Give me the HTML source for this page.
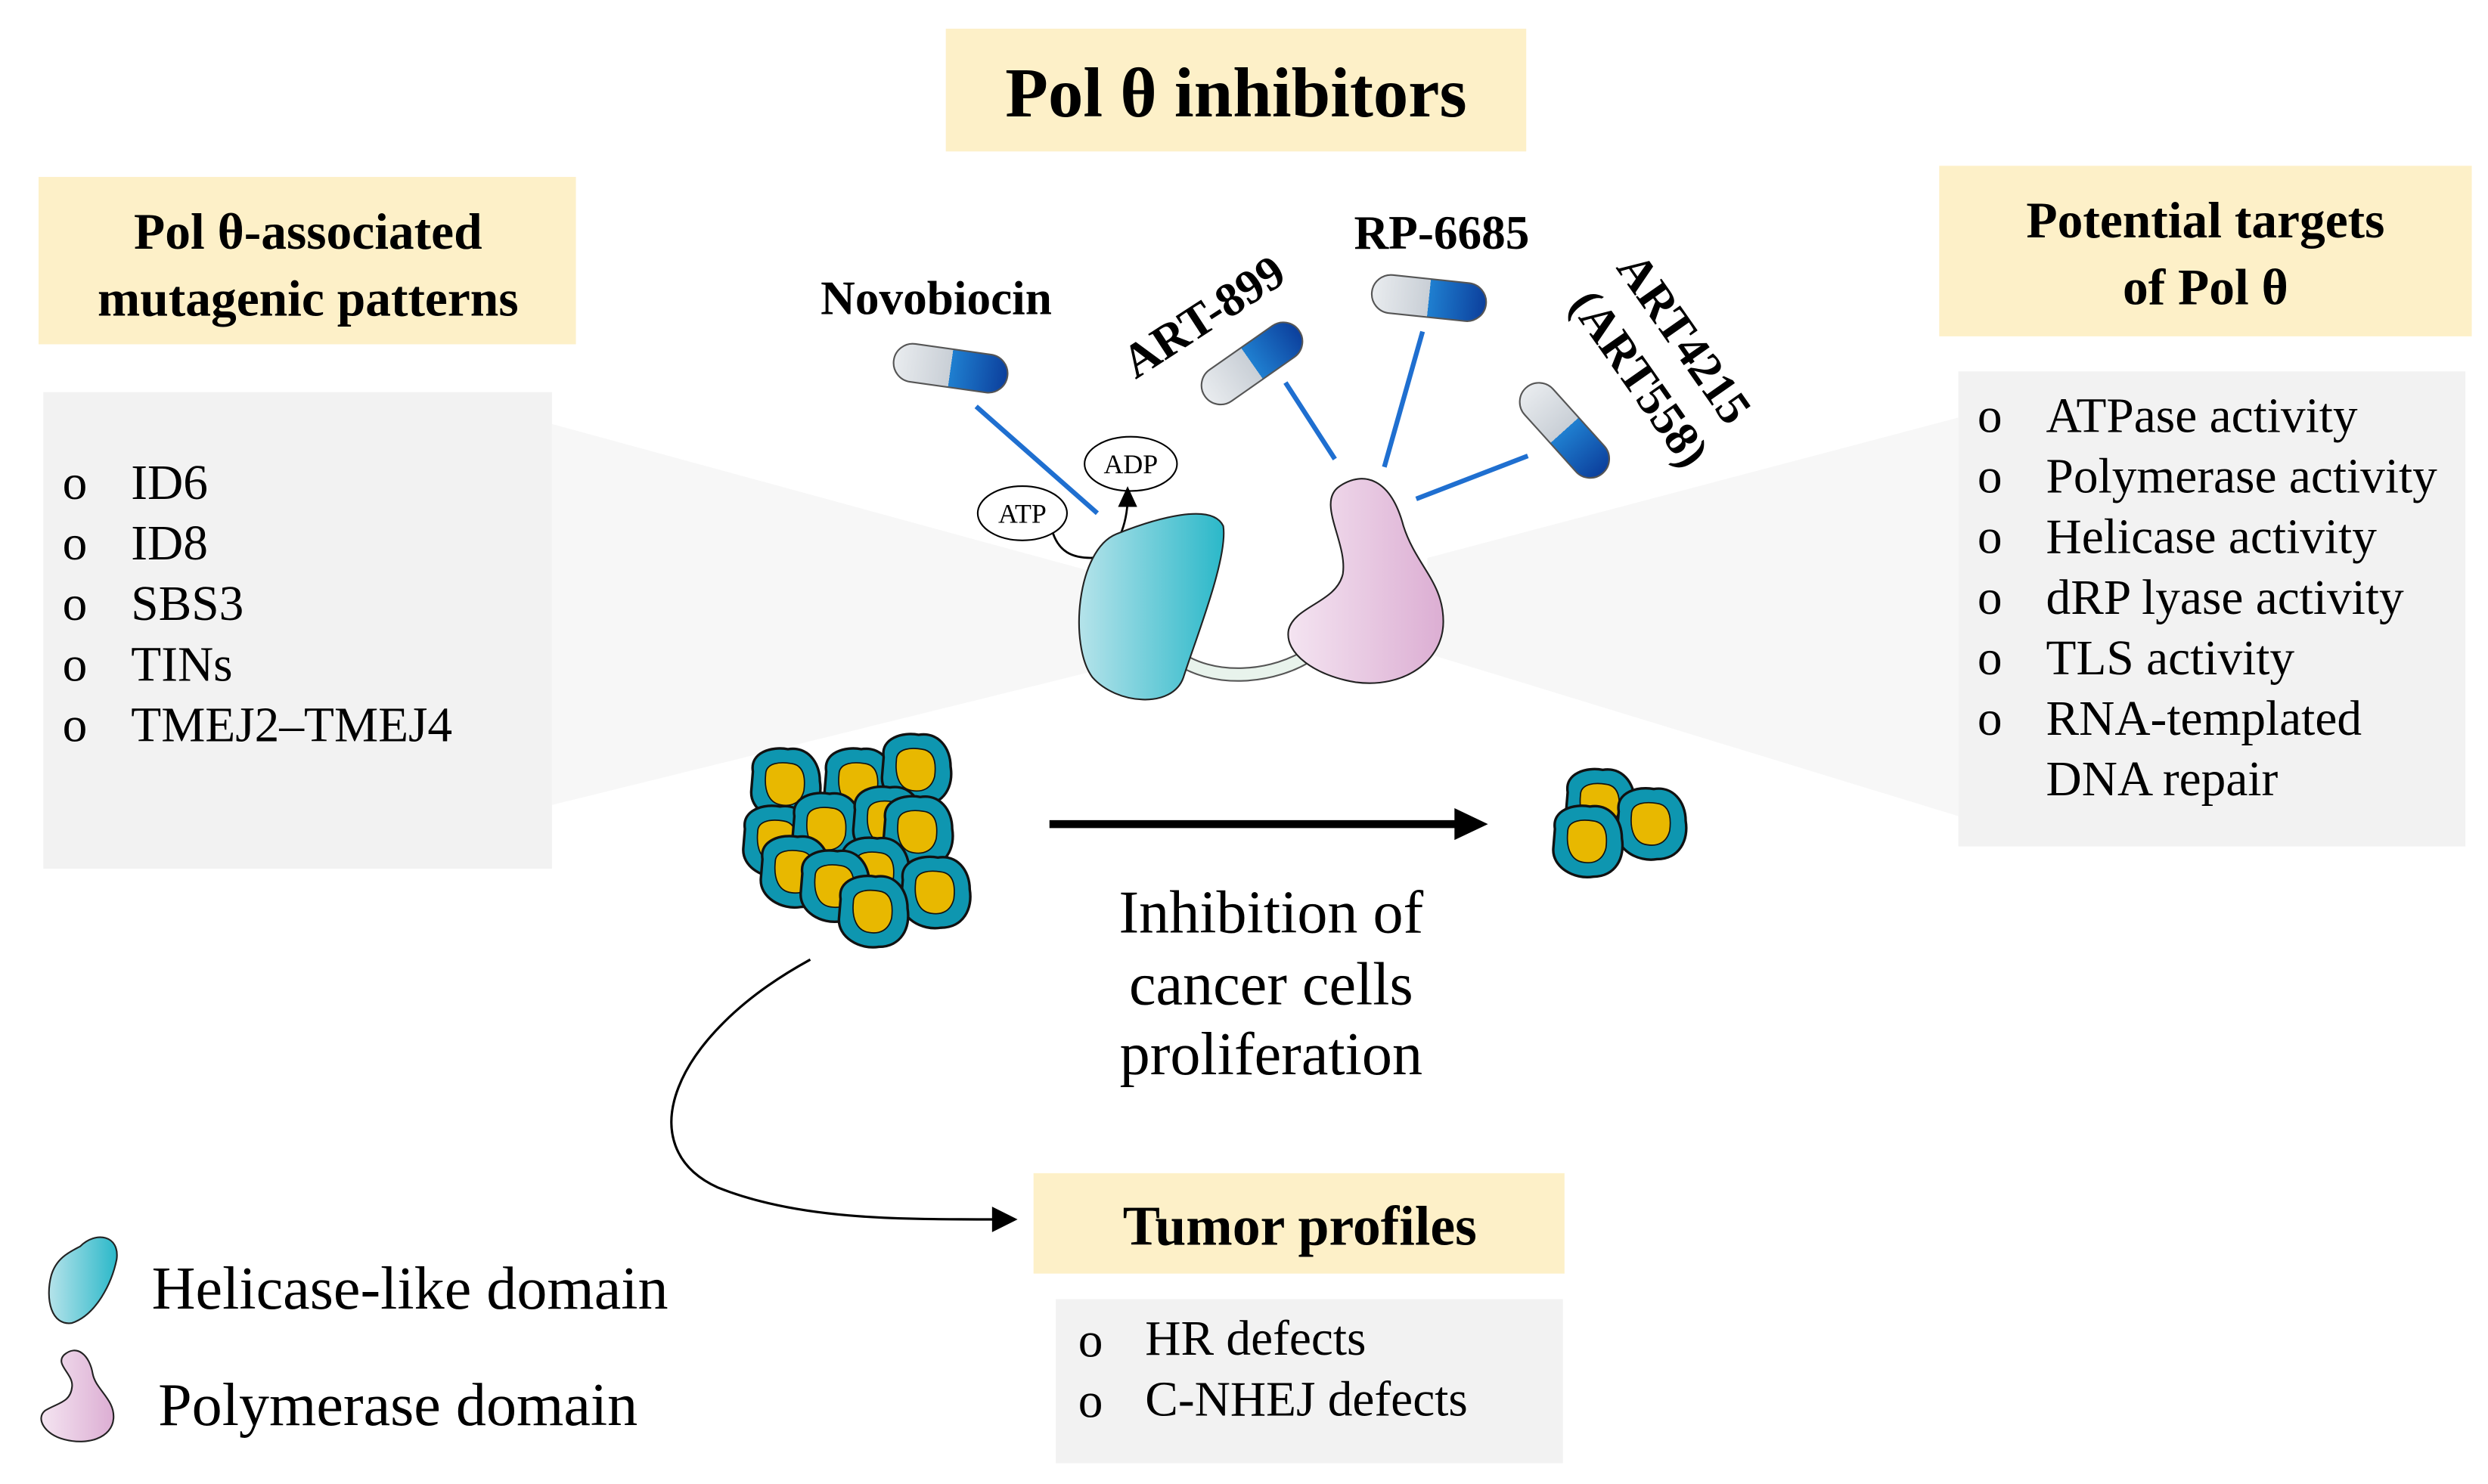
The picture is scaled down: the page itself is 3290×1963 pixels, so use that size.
<!DOCTYPE html>
<html><head><meta charset="utf-8"><style>
html,body{margin:0;padding:0;background:#fff;}
svg{display:block;}
text{font-family:"Liberation Serif","DejaVu Serif",serif;fill:#000;}
.b{font-weight:bold;}
</style></head><body>
<svg width="3290" height="1963" viewBox="0 0 1560 931" xmlns="http://www.w3.org/2000/svg">
<defs>
<linearGradient id="hel" x1="0" x2="1"><stop offset="0" stop-color="#b5e3ea"/><stop offset="1" stop-color="#2bb8c9"/></linearGradient>
<linearGradient id="pol" x1="0" x2="1"><stop offset="0" stop-color="#f4e4f1"/><stop offset="1" stop-color="#dcaed3"/></linearGradient>
<linearGradient id="pill" x1="0" x2="1"><stop offset="0" stop-color="#e9ecef"/><stop offset="0.5" stop-color="#c9cfd6"/><stop offset="0.5" stop-color="#1f7fd0"/><stop offset="1" stop-color="#0c3f9c"/></linearGradient>
<g id="cell">
<path d="M-20,-8 C-22,-20 -8,-24 2,-22 C14,-24 22,-14 22,-2 C24,10 18,22 4,22 C-8,24 -22,16 -21,4 Z" fill="#0e96b0" stroke="#111" stroke-width="1.6"/>
<path d="M-12,-6 C-12,-14 -2,-14 4,-13 C12,-12 13,-4 12,4 C10,12 4,14 -2,13 C-10,12 -13,4 -12,-6 Z" fill="#e8b800" stroke="#111" stroke-width="0.8"/>
</g>
<g id="pl">
<rect x="-36" y="-12" width="72" height="24" rx="12" fill="url(#pill)" stroke="#555" stroke-width="1"/>
</g>
</defs>

<polygon points="346,266 690,360 690,420 346,505" fill="#f7f7f7"/>
<polygon points="895,350 1228,262 1228,512 895,410" fill="#f7f7f7"/>

<rect x="593" y="18" width="364" height="77" fill="#fdf0c8"/>
<text x="775" y="73" font-size="44" class="b" text-anchor="middle">Pol θ inhibitors</text>

<rect x="24" y="111" width="337" height="105" fill="#fdf0c8"/>
<text x="193" y="156" font-size="32" class="b" text-anchor="middle">Pol θ-associated</text>
<text x="193" y="198" font-size="32" class="b" text-anchor="middle">mutagenic patterns</text>
<rect x="27" y="246" width="319" height="299" fill="#f2f2f2"/>
<g font-size="31">
<text x="39" y="313">o</text><text x="82" y="313">ID6</text>
<text x="39" y="351">o</text><text x="82" y="351">ID8</text>
<text x="39" y="389">o</text><text x="82" y="389">SBS3</text>
<text x="39" y="427">o</text><text x="82" y="427">TINs</text>
<text x="39" y="465">o</text><text x="82" y="465">TMEJ2–TMEJ4</text>
</g>

<rect x="1216" y="104" width="334" height="107" fill="#fdf0c8"/>
<text x="1383" y="149" font-size="32" class="b" text-anchor="middle">Potential targets</text>
<text x="1383" y="191" font-size="32" class="b" text-anchor="middle">of Pol θ</text>
<rect x="1228" y="233" width="318" height="298" fill="#f2f2f2"/>
<g font-size="31">
<text x="1240" y="271">o</text><text x="1283" y="271">ATPase activity</text>
<text x="1240" y="309">o</text><text x="1283" y="309">Polymerase activity</text>
<text x="1240" y="347">o</text><text x="1283" y="347">Helicase activity</text>
<text x="1240" y="385">o</text><text x="1283" y="385">dRP lyase activity</text>
<text x="1240" y="423">o</text><text x="1283" y="423">TLS activity</text>
<text x="1240" y="461">o</text><text x="1283" y="461">RNA-templated</text>
<text x="1283" y="499">DNA repair</text>
</g>

<text x="587" y="197" font-size="30" class="b" text-anchor="middle">Novobiocin</text>
<use href="#pl" transform="translate(596,231) rotate(8)"/>
<line x1="612" y1="255" x2="688" y2="322" stroke="#1f6fd0" stroke-width="3"/>
<text font-size="30" class="b" text-anchor="middle" transform="translate(760,207) rotate(-33)">ART-899</text>
<use href="#pl" transform="translate(785,228) rotate(-35)"/>
<line x1="806" y1="240" x2="837" y2="288" stroke="#1f6fd0" stroke-width="3"/>
<text x="904" y="156" font-size="30" class="b" text-anchor="middle">RP-6685</text>
<use href="#pl" transform="translate(896,187) rotate(6)"/>
<line x1="892" y1="208" x2="868" y2="293" stroke="#1f6fd0" stroke-width="3"/>
<text font-size="30" class="b" text-anchor="middle" transform="translate(1048,218) rotate(55)">ART4215</text>
<text font-size="30" class="b" text-anchor="middle" transform="translate(1020,243) rotate(55)">(ART558)</text>
<use href="#pl" transform="translate(981,270) rotate(48)"/>
<line x1="888" y1="313" x2="958" y2="286" stroke="#1f6fd0" stroke-width="3"/>

<ellipse cx="641" cy="322" rx="28" ry="17" fill="#fff" stroke="#000" stroke-width="1"/>
<text x="641" y="328" font-size="17" text-anchor="middle">ATP</text>
<ellipse cx="709" cy="291" rx="29" ry="17" fill="#fff" stroke="#000" stroke-width="1"/>
<text x="709" y="297" font-size="17" text-anchor="middle">ADP</text>
<path d="M660,334 C664,346 672,350 684,350 C700,350 706,330 707,315" fill="none" stroke="#000" stroke-width="1.3"/>
<path d="M701,318 L707,305 L713,318 Z" fill="#000"/>

<path d="M735,410 C760,430 800,425 822,410" fill="none" stroke="#555" stroke-width="9"/>
<path d="M735,410 C760,430 800,425 822,410" fill="none" stroke="#e8f3ec" stroke-width="7"/>
<path d="M700,335 C725,325 760,315 767,330 C770,350 750,400 742,425 C735,445 700,442 685,425 C670,405 675,345 700,335 Z" fill="url(#hel)" stroke="#222" stroke-width="1"/>
<path d="M840,305 C855,295 872,300 880,330 C888,355 905,365 905,390 C905,415 880,432 850,428 C825,424 805,410 808,395 C812,380 838,378 842,360 C845,340 825,315 840,305 Z" fill="url(#pol)" stroke="#222" stroke-width="1"/>

<use href="#cell" x="492" y="492"/>
<use href="#cell" x="487" y="528"/>
<use href="#cell" x="538" y="492"/>
<use href="#cell" x="574" y="483"/>
<use href="#cell" x="518" y="520"/>
<use href="#cell" x="556" y="516"/>
<use href="#cell" x="575" y="522"/>
<use href="#cell" x="498" y="547"/>
<use href="#cell" x="548" y="548"/>
<use href="#cell" x="523" y="556"/>
<use href="#cell" x="586" y="560"/>
<use href="#cell" x="547" y="572"/>

<use href="#cell" x="1003" y="505"/>
<use href="#cell" x="1035" y="517"/>
<use href="#cell" x="995" y="528"/>

<line x1="658" y1="517" x2="915" y2="517" stroke="#000" stroke-width="5"/>
<path d="M912,507 L933,517 L912,527 Z" fill="#000"/>
<g font-size="38" text-anchor="middle">
<text x="797" y="585">Inhibition of</text>
<text x="797" y="630">cancer cells</text>
<text x="797" y="674">proliferation</text>
</g>

<path d="M508,602 C420,650 395,720 450,745 C500,765 560,765 625,765" fill="none" stroke="#000" stroke-width="1.5"/>
<path d="M622,757 L638,765 L622,773 Z" fill="#000"/>

<rect x="648" y="736" width="333" height="63" fill="#fdf0c8"/>
<text x="815" y="781" font-size="35" class="b" text-anchor="middle">Tumor profiles</text>
<rect x="662" y="815" width="318" height="103" fill="#f2f2f2"/>
<g font-size="31">
<text x="676" y="851">o</text><text x="718" y="850">HR defects</text>
<text x="676" y="889">o</text><text x="718" y="888">C-NHEJ defects</text>
</g>

<path d="M50,782 C60,772 75,775 73,790 C70,805 60,825 45,830 C32,832 28,815 32,800 C35,790 42,786 50,782 Z" fill="url(#hel)" stroke="#222" stroke-width="1"/>
<text x="95" y="821" font-size="38">Helicase-like domain</text>
<path d="M40,850 C48,843 56,850 58,862 C60,872 72,878 71,890 C70,902 55,907 40,903 C28,900 22,890 28,885 C36,880 44,880 45,870 C46,862 34,856 40,850 Z" fill="url(#pol)" stroke="#222" stroke-width="1"/>
<text x="99" y="894" font-size="38">Polymerase domain</text>
</svg>
</body></html>
